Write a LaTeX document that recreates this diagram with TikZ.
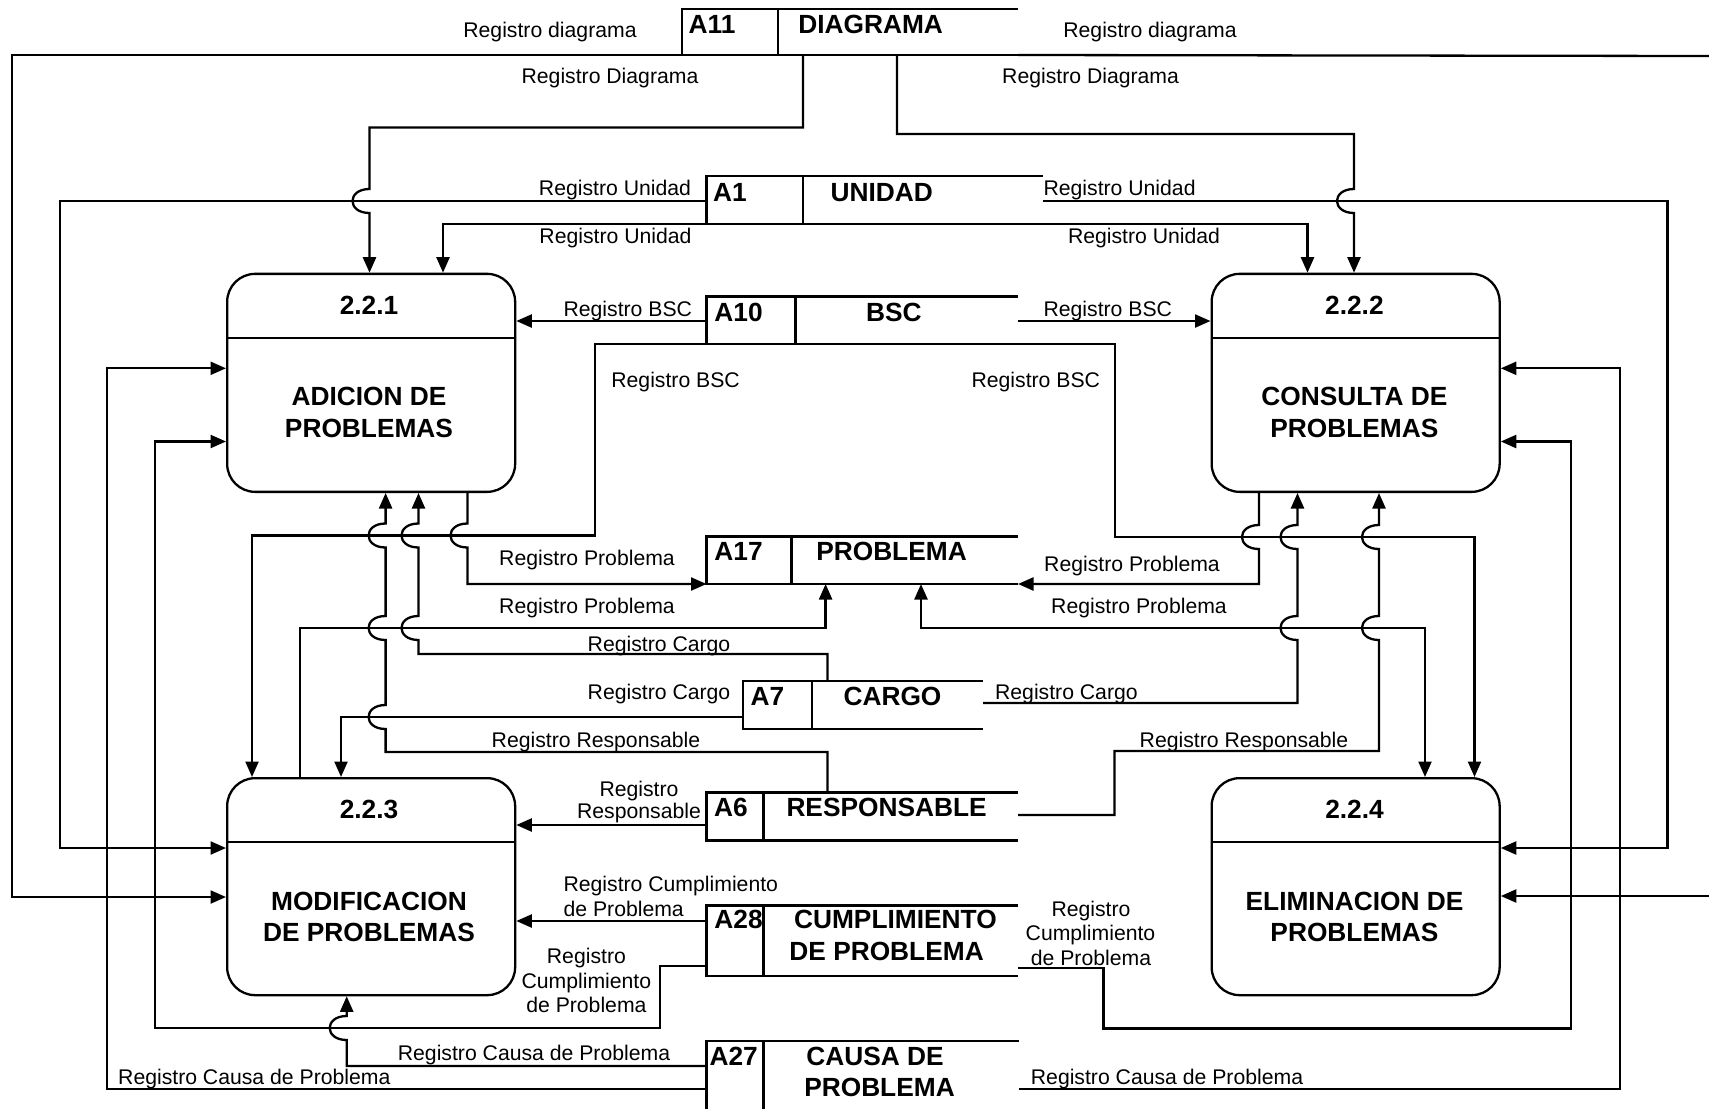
\documentclass[tikz,border=0pt]{standalone}
\usepackage{fontspec}
\setmainfont{Liberation Sans}
\usetikzlibrary{arrows.meta}
\newcommand\labfont{\fontsize{21.2}{24}\selectfont}
\newcommand\bldfont{\fontsize{26.3}{32}\selectfont\bfseries}
\tikzset{
 >={Triangle[length=15.5pt,width=13pt]},
 flow/.style={line width=2.3pt,->},
 flowb/.style={line width=2.3pt,<->},
 plain/.style={line width=2.3pt},
 proc/.style={draw,line width=2.3pt,rounded corners=28pt,minimum width=288pt,inner sep=0pt,anchor=north west},
 storebox/.style={inner sep=0pt,outer sep=0pt,anchor=north west},
 storeline/.style={line width=2.3pt},
 lbl/.style={font=\labfont,anchor=base,inner sep=0pt},
 lblw/.style={font=\labfont,anchor=base west,inner sep=0pt},
 btxt/.style={font=\bldfont,anchor=base,inner sep=0pt},
 jd/.style 2 args={insert path={-- (#1,#2-12) .. controls (#1-22.7,#2-12) and (#1-22.7,#2+12) .. (#1,#2+12)}},
 ju/.style 2 args={insert path={-- (#1,#2+12) .. controls (#1-22.7,#2+12) and (#1-22.7,#2-12) .. (#1,#2-12)}},
}
\begin{document}
\begin{tikzpicture}[x=1pt,y=-1pt]
\useasboundingbox (0,0) rectangle (1709,1109);
\fill[white] (0,0) rectangle (1709,1109);
\clip (0,0) rectangle (1709,1109);

% ---------- processes ----------
\node[proc,minimum height=218pt] (p221) at (226,272.7) {};
\node[proc,minimum height=218pt] (p222) at (1210.5,272.7) {};
\node[proc,minimum height=217pt] (p223) at (226,777) {};
\node[proc,minimum height=217pt] (p224) at (1210.5,777) {};
\foreach \p in {p221,p222,p223,p224}{
  \draw[plain] ([yshift=-65pt]\p.north west) -- ([yshift=-65pt]\p.north east);
}
\node[btxt] (n221) at (369,314) {2.2.1};
\node[btxt] (t221a) at (369,405.7) {ADICION DE};
\node[btxt] (t221b) at (369,437.7) {PROBLEMAS};
\node[btxt] (n222) at (1354.4,314) {2.2.2};
\node[btxt] (t222a) at (1354.4,405.7) {CONSULTA DE};
\node[btxt] (t222b) at (1354.4,437.7) {PROBLEMAS};
\node[btxt] (n223) at (369,818.3) {2.2.3};
\node[btxt] (t223a) at (369,910) {MODIFICACION};
\node[btxt] (t223b) at (369,941.7) {DE PROBLEMAS};
\node[btxt] (n224) at (1354.5,818.3) {2.2.4};
\node[btxt] (t224a) at (1354.5,910) {ELIMINACION DE};
\node[btxt] (t224b) at (1354.5,941.7) {PROBLEMAS};

% ---------- stores ----------
\node[storebox,minimum width=336pt,minimum height=46pt] (a11) at (682,9) {};
\node[storebox,minimum width=336.5pt,minimum height=48.3pt] (a1) at (706.5,175.7) {};
\node[storebox,minimum width=311.5pt,minimum height=47.5pt] (a10) at (706.5,296.5) {};
\node[storebox,minimum width=311.5pt,minimum height=47.5pt] (a17) at (706.5,536.5) {};
\node[storebox,minimum width=240pt,minimum height=48pt] (a7) at (743,681) {};
\node[storebox,minimum width=311.5pt,minimum height=48pt] (a6) at (706.5,792.5) {};
\node[storebox,minimum width=311.5pt,minimum height=70.5pt] (a28) at (706.5,905.5) {};
\node[storebox,minimum width=312.5pt,minimum height=68pt] (a27) at (706.5,1041) {};
\foreach \s/\d in {a11/778,a1/802.7,a10/795.5,a17/791.5,a7/812,a6/763.5,a28/763.5}{
  \draw[storeline] (\s.north east) -- (\s.north west) -- (\s.south west) -- (\s.south east);
  \draw[storeline] (\s.north -| \d,0) -- (\s.south -| \d,0);
}
\draw[storeline] (a27.north east) -- (a27.north west) -- (a27.south west);
\draw[storeline] (a27.north -| 763.5,0) -- (a27.south -| 763.5,0);

\node[btxt] (s11) at (712,33) {A11};
\node[btxt] (s11n) at (870.6,33) {DIAGRAMA};
\node[btxt] (s1) at (730,201.7) {A1};
\node[btxt] (s1n) at (881.7,201.7) {UNIDAD};
\node[btxt] (s10) at (738.6,321) {A10};
\node[btxt] (s10n) at (893.8,321) {BSC};
\node[btxt] (s17) at (738.6,560.7) {A17};
\node[btxt] (s17n) at (891.5,560.7) {PROBLEMA};
\node[btxt] (s7) at (767.4,705) {A7};
\node[btxt] (s7n) at (892.5,705) {CARGO};
\node[btxt] (s6) at (731,816) {A6};
\node[btxt] (s6n) at (886.6,816) {RESPONSABLE};
\node[btxt] (s28) at (738.6,928.3) {A28};
\node[btxt] (s28n) at (895.4,928.3) {CUMPLIMIENTO};
\node[btxt] (s28m) at (886.6,960) {DE PROBLEMA};
\node[btxt] (s27) at (733.7,1065) {A27};
\node[btxt] (s27n) at (875,1065) {CAUSA DE};
\node[btxt] (s27m) at (879.5,1096.7) {PROBLEMA};

\coordinate (edgeR1) at (1709,56);
\coordinate (edgeR2) at (1709,896);

% ---------- flows: DIAGRAMA ----------
\draw[flow] (a11.south west) -- (12,55) -- (12,897) -- (p223.west |- 0,897);
\draw[plain] (a11.south east) -- (edgeR1);
\draw[flow] (edgeR2) -- (p224.east |- 0,896);
\draw[flow] (a11.south -| 803,0) -- (803,127.5) -- (369.5,127.5) [jd={369.5}{201}] -- (p221.north -| 369.5,0);
\draw[flow] (a11.south -| 897,0) -- (897,134) -- (1354,134) [jd={1354}{201}] -- (p222.north -| 1354,0);

% ---------- UNIDAD ----------
\draw[flow] (a1.west |- 0,201) -- (60,201) -- (60,848) -- (p223.west |- 0,848);
\draw[flow] (a1.south west) -| (p221.north -| 443,0);
\draw[flow] (a1.east |- 0,201) -- (1667.5,201) -- (1667.5,848) -- (p224.east |- 0,848);
\draw[flow] (a1.south east) -| (p222.north -| 1307.5,0);

% ---------- BSC ----------
\draw[flow] (a10.west |- 0,321) -- (p221.east |- 0,321);
\draw[flow] (a10.south west) -- (595,344) -- (595,535.5) -- (252,535.5) -- (p223.north -| 252,0);
\draw[flow] (a10.east |- 0,321) -- (p222.west |- 0,321);
\draw[flow] (a10.south east) -- (1115,344) -- (1115,537) -- (1474.5,537) -- (p224.north -| 1474.5,0);

% ---------- PROBLEMA ----------
\draw[flow] (p221.south -| 467.5,0) [jd={467.5}{535.5}] -- (467.5,584) -- (a17.south west);
\draw[flow] (p222.south -| 1259,0) [jd={1259}{537}] -- (1259,584) -- (a17.south east);
\draw[flow] (p223.north -| 300,0) -- (300,628) -- (825.6,628) -- (a17.south -| 825.6,0);
\draw[flowb] (a17.south -| 921,0) -- (921,628) -- (1425,628) -- (p224.north -| 1425,0);

% ---------- CARGO ----------
\draw[flow] (a7.north -| 827.5,0) -- (827.5,654) -- (418.5,654) [ju={418.5}{628}] [ju={418.5}{535.5}] -- (p221.south -| 418.5,0);
\draw[flow] (a7.west |- 0,717) -- (341,717) -- (p223.north -| 341,0);
\draw[flow] (a7.east |- 0,703) -- (1297.5,703) [ju={1297.5}{628}] [ju={1297.5}{537}] -- (p222.south -| 1297.5,0);

% ---------- RESPONSABLE ----------
\draw[flow] (a6.north -| 827.5,0) -- (827.5,752) -- (385.6,752) [ju={385.6}{717}] [ju={385.6}{628}] [ju={385.6}{535.5}] -- (p221.south -| 385.6,0);
\draw[flow] (a6.west |- 0,825) -- (p223.east |- 0,825);
\draw[flow] (a6.east |- 0,815) -- (1114.5,815) -- (1114.5,751) -- (1379,751) [ju={1379}{628}] [ju={1379}{537}] -- (p222.south -| 1379,0);

% ---------- CUMPLIMIENTO ----------
\draw[flow] (a28.west |- 0,921) -- (p223.east |- 0,921);
\draw[flow] (a28.west |- 0,966) -- (660,966) -- (660,1028) -- (155,1028) -- (155,441.5) -- (p221.west |- 0,441.5);
\draw[flow] (a28.east |- 0,968) -- (1103.5,968) -- (1103.5,1028.5) -- (1571,1028.5) -- (1571,441.5) -- (p222.east |- 0,441.5);

% ---------- CAUSA ----------
\draw[flow] (a27.west |- 0,1066) -- (346.7,1066) [ju={346.7}{1028}] -- (p223.south -| 346.7,0);
\draw[flow] (a27.west |- 0,1089) -- (107,1089) -- (107,368.3) -- (p221.west |- 0,368.3);
\draw[flow] (a27.east |- 0,1089) -- (1620,1089) -- (1620,368.3) -- (p222.east |- 0,368.3);

% ---------- labels ----------
\node[lbl] (l1) at (550,37.5) {Registro diagrama};
\node[lbl] (l2) at (1150,37.5) {Registro diagrama};
\node[lbl] (l3) at (610,83.3) {Registro Diagrama};
\node[lbl] (l4) at (1090.6,83.3) {Registro Diagrama};
\node[lbl] (l5) at (615,195) {Registro Unidad};
\node[lbl] (l6) at (615.5,243.3) {Registro Unidad};
\node[lbl] (l7) at (1119.6,195) {Registro Unidad};
\node[lbl] (l8) at (1144,243.3) {Registro Unidad};
\node[lbl] (l9) at (627.8,316) {Registro BSC};
\node[lbl] (l10) at (675.6,387.7) {Registro BSC};
\node[lbl] (l11) at (1107.8,316) {Registro BSC};
\node[lbl] (l12) at (1035.8,387.7) {Registro BSC};
\node[lbl] (l13) at (587,565) {Registro Problema};
\node[lbl] (l14) at (587,613.3) {Registro Problema};
\node[lbl] (l15) at (1132,571.7) {Registro Problema};
\node[lbl] (l16) at (1139,613.3) {Registro Problema};
\node[lbl] (l17) at (659,651) {Registro Cargo};
\node[lbl] (l18) at (659,699.3) {Registro Cargo};
\node[lbl] (l19) at (1066.4,699.3) {Registro Cargo};
\node[lbl] (l20) at (596,747.7) {Registro Responsable};
\node[lbl] (l21) at (1244,747.7) {Registro Responsable};
\node[lbl] (l22a) at (639,796) {Registro};
\node[lbl] (l22b) at (639,818.3) {Responsable};
\node[lblw] (l23a) at (563.4,891.7) {Registro Cumplimiento};
\node[lblw] (l23b) at (563.4,916) {de Problema};
\node[lbl] (l24a) at (586.4,963.3) {Registro};
\node[lbl] (l24b) at (586.4,988.3) {Cumplimiento};
\node[lbl] (l24c) at (586.4,1012.3) {de Problema};
\node[lbl] (l25a) at (1091,916.7) {Registro};
\node[lbl] (l25b) at (1090.5,940.7) {Cumplimiento};
\node[lbl] (l25c) at (1091,965) {de Problema};
\node[lbl] (l26) at (534,1060) {Registro Causa de Problema};
\node[lbl] (l27) at (254.3,1084) {Registro Causa de Problema};
\node[lbl] (l28) at (1167,1084) {Registro Causa de Problema};
\end{tikzpicture}
\end{document}
